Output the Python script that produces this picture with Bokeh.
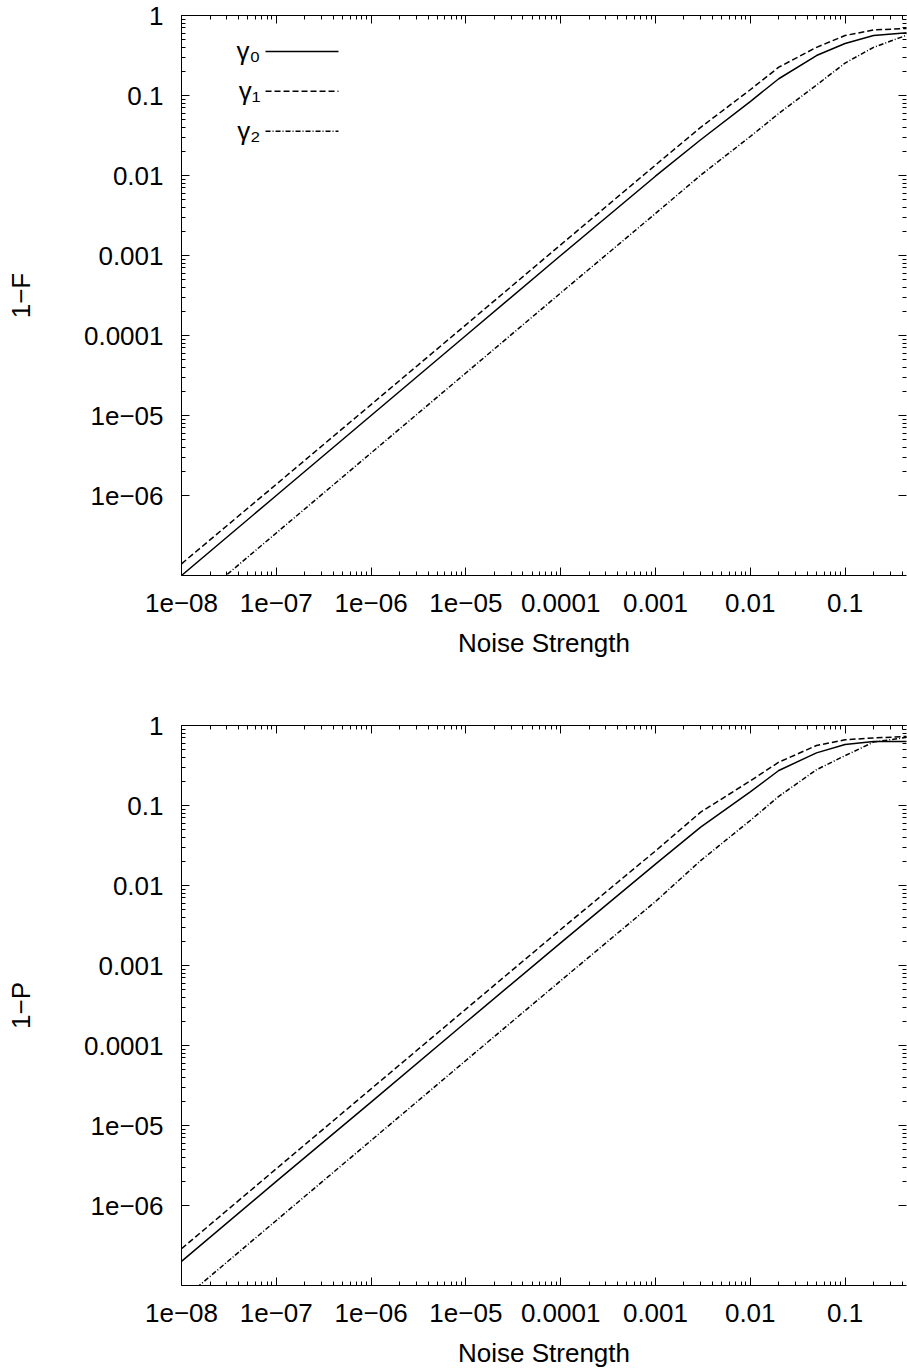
from bokeh.plotting import figure
from bokeh.models import Range1d, FixedTicker, LogAxis, Arrow, Label, CustomJSTickFormatter
from bokeh.layouts import column
from bokeh.embed import file_html
from bokeh.resources import INLINE

# ---------------- data ----------------
noise = [1e-8, 1e-7, 1e-6, 1e-5, 1e-4, 1e-3, 3e-3, 1e-2, 2e-2, 5e-2, 1e-1, 2e-1, 4.6e-1]

# top panel: 1-F
gamma0_F = [1.0e-7, 1.0e-6, 1.0e-5, 1.0e-4, 1.0e-3, 9.8e-3, 0.028, 0.084, 0.162, 0.316, 0.447, 0.562, 0.61]
gamma1_F = [1.4e-7, 1.38e-6, 1.37e-5, 1.36e-4, 1.36e-3, 0.0135, 0.040, 0.118, 0.226, 0.40, 0.562, 0.66, 0.69]
gamma2_F = [3.4e-8, 3.4e-7, 3.4e-6, 3.4e-5, 3.4e-4, 3.35e-3, 0.0101, 0.0307, 0.0596, 0.135, 0.254, 0.40, 0.574]

# bottom panel: 1-P
gamma0_P = [2.0e-7, 2.0e-6, 1.96e-5, 1.95e-4, 1.92e-3, 0.0185, 0.0536, 0.148, 0.274, 0.455, 0.579, 0.63, 0.63]
gamma1_P = [2.88e-7, 2.88e-6, 2.87e-5, 2.85e-4, 2.82e-3, 0.027, 0.0826, 0.203, 0.348, 0.562, 0.662, 0.70, 0.73]
gamma2_P = [6.5e-8, 6.5e-7, 6.5e-6, 6.5e-5, 6.45e-4, 6.3e-3, 0.0205, 0.065, 0.13, 0.28, 0.42, 0.62, 0.715]

series_names = ["γ₀", "γ₁", "γ₂"]

x_ticks = [1e-8, 1e-7, 1e-6, 1e-5, 1e-4, 1e-3, 1e-2, 1e-1]
x_tick_labels = ["1e−08", "1e−07", "1e−06", "1e−05", "0.0001", "0.001", "0.01", "0.1"]
y_ticks = [1e-6, 1e-5, 1e-4, 1e-3, 1e-2, 1e-1, 1.0]
y_tick_labels = ["1e−06", "1e−05", "0.0001", "0.001", "0.01", "0.1", "1"]

x_minor = [m * 10.0 ** k for k in range(-8, 0) for m in range(2, 10)]
y_minor = [m * 10.0 ** k for k in range(-6, 0) for m in range(2, 10)]

X_MIN, X_MAX = 1e-8, 0.445
Y_MIN, Y_MAX = 1.0e-7, 1.0

FONT = "Liberation Sans"
FS = "26px"
DASHES = [None, "6 3", "5 2 1 2"]

LABEL_JS = """
let best = '';
let bd = 1e9;
for (let i = 0; i < vals.length; i++) {
  const d = Math.abs(Math.log10(tick) - Math.log10(vals[i]));
  if (d < bd) { bd = d; best = labs[i]; }
}
return bd < 0.01 ? best : '';
"""


def label_formatter(vals, labs):
    return CustomJSTickFormatter(args=dict(vals=vals, labs=labs), code=LABEL_JS)


def style_axis(ax, show_labels):
    ax.axis_line_color = "black"
    ax.axis_line_width = 1
    ax.major_tick_in = 8
    ax.major_tick_out = 0
    ax.minor_tick_in = 4
    ax.minor_tick_out = 0
    ax.major_tick_line_color = "black"
    ax.minor_tick_line_color = "black"
    ax.major_label_text_font = FONT
    ax.major_label_text_color = "black"
    ax.axis_label_text_font = FONT
    ax.axis_label_text_font_size = FS
    ax.axis_label_text_font_style = "normal"
    ax.axis_label_text_color = "black"
    if show_labels:
        ax.major_label_text_font_size = FS
    else:
        ax.major_label_text_font_size = "1px"
        ax.major_label_standoff = 0
        ax.formatter = CustomJSTickFormatter(code="return ' '")


def make_panel(ys, ylabel, top_border, bottom_border, with_legend):
    p = figure(frame_width=725, frame_height=560,
               x_axis_type="log", y_axis_type="log",
               x_range=Range1d(X_MIN, X_MAX), y_range=Range1d(Y_MIN, Y_MAX),
               output_backend="svg", toolbar_location=None,
               min_border_left=181, min_border_right=0,
               min_border_top=top_border, min_border_bottom=bottom_border,
               background_fill_color="white", border_fill_color="white")
    p.grid.visible = False
    p.outline_line_color = None

    xa = p.xaxis[0]
    style_axis(xa, True)
    xa.ticker = FixedTicker(ticks=x_ticks, minor_ticks=x_minor)
    xa.formatter = label_formatter(x_ticks, x_tick_labels)
    xa.major_label_standoff = 18
    xa.axis_label = "Noise Strength"
    xa.axis_label_standoff = 13

    ya = p.yaxis[0]
    style_axis(ya, True)
    ya.ticker = FixedTicker(ticks=y_ticks, minor_ticks=y_minor)
    ya.formatter = label_formatter(y_ticks, y_tick_labels)
    ya.major_label_standoff = 18
    ya.axis_label = ylabel
    ya.axis_label_standoff = 45

    top = LogAxis(ticker=FixedTicker(ticks=x_ticks, minor_ticks=x_minor))
    style_axis(top, False)
    p.add_layout(top, "above")

    right = LogAxis(ticker=FixedTicker(ticks=y_ticks, minor_ticks=y_minor))
    style_axis(right, False)
    right.axis_line_color = None
    p.add_layout(right, "right")

    for vals, dash in zip(ys, DASHES):
        kw = dict(line_color="black", line_width=1.5)
        if dash:
            kw["line_dash"] = dash
        p.line(noise, vals, **kw)

    if with_legend:
        leg_y = [0.355, 0.113, 0.0358]
        for name, yy, dash in zip(series_names, leg_y, DASHES):
            arr = Arrow(end=None, x_start=7.7e-8, y_start=yy, x_end=4.53e-7, y_end=yy,
                        line_color="black", line_width=1.5,
                        line_dash=dash if dash else "solid")
            p.add_layout(arr)
            p.add_layout(Label(x=6.8e-8, y=yy, text=name, text_align="right",
                               text_baseline="middle", text_font=FONT,
                               text_font_size=FS, text_color="black"))
    return p


p1 = make_panel([gamma0_F, gamma1_F, gamma2_F], "1−F", 15, 122, True)
p2 = make_panel([gamma0_P, gamma1_P, gamma2_P], "1−P", 28, 80, False)

layout = column(p1, p2, spacing=0)
open("out.html", "w").write(file_html(layout, INLINE))
